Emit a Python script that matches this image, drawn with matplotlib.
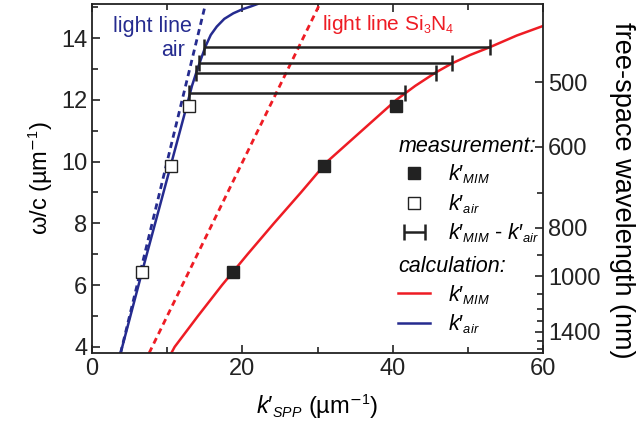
import numpy as np
import matplotlib
matplotlib.use("Agg")
import matplotlib.pyplot as plt
import matplotlib._mathtext as mathtext_internal

plt.rcParams['font.family'] = ['Liberation Sans', 'DejaVu Sans']
plt.rcParams['mathtext.fontset'] = 'custom'
plt.rcParams['mathtext.rm'] = 'Liberation Sans'
plt.rcParams['mathtext.it'] = 'Liberation Sans:italic'
mathtext_internal.SHRINK_FACTOR = 0.6  # smaller sub/superscripts, as in the original

# ---- data --------------------------------------------------------------------- #

# measured points (k' in um^-1, omega/c in um^-1)
meas_omega = [6.42, 9.85, 11.8]
meas_k_mim = [18.8, 30.9, 40.5]
meas_k_air = [6.65, 10.45, 12.85]

# k'_MIM - k'_air bars
bar_omega = [12.22, 12.88, 13.18, 13.70]
bar_k_air = [12.85, 13.87, 14.27, 14.93]
bar_k_mim = [41.6, 45.7, 47.9, 52.9]

# calculated dispersion, MIM
calc_mim_k = [10.6, 11.0, 14.1, 17.3, 20.7, 24.2, 27.8, 31.3, 35.9, 40.5,
              43.0, 45.7, 47.9, 50.3, 52.9, 56.5, 60.0]
calc_mim_w = [3.82, 4.0, 5.0, 6.0, 7.0, 8.0, 9.0, 10.0, 11.0, 12.0,
              12.45, 12.88, 13.18, 13.45, 13.70, 14.08, 14.39]

# calculated dispersion, air side
calc_air_k = [3.83, 6.65, 10.45, 12.6, 13.3, 13.9, 14.4, 15.1, 15.8, 16.6,
              17.6, 18.8, 20.0, 21.1, 22.0]
calc_air_w = [3.82, 6.42, 9.85, 11.8, 12.45, 12.9, 13.25, 13.73, 14.1, 14.37,
              14.62, 14.8, 14.93, 15.02, 15.1]

# light lines
ll_air_k = [3.8, 15.1]
ll_air_w = [3.8, 15.1]
ll_sin_k = [7.6, 30.3]
ll_sin_w = [3.8, 15.1]

# right axis (free-space wavelength, nm)
wl_major = [500, 600, 800, 1000, 1400]
wl_minor = [700, 900, 1100, 1200, 1300, 1500, 1600]

red = '#ee1c24'
blue = '#252b8f'
black = '#222222'

lab_mim = r"$k\prime_{MIM}$"
lab_air = r"$k\prime_{air}$"

# -------------------------------------------------------------------------------------------------- #

fig = plt.figure(figsize=(6.42, 4.30), dpi=100)
ax = fig.add_axes([0.1433, 0.179, 0.7025, 0.8116])

ax.plot(ll_air_k, ll_air_w, color=blue, lw=2, dashes=(2.2, 1.6))
ax.plot(ll_sin_k, ll_sin_w, color=red, lw=2, dashes=(2.2, 1.6))
line_mim, = ax.plot(calc_mim_k, calc_mim_w, color=red, lw=1.8)
line_air, = ax.plot(calc_air_k, calc_air_w, color=blue, lw=1.8)

bar_mid = [(a + b) / 2 for a, b in zip(bar_k_air, bar_k_mim)]
bar_half = [(b - a) / 2 for a, b in zip(bar_k_air, bar_k_mim)]
eb = ax.errorbar(bar_mid, bar_omega, xerr=bar_half, fmt='none', ecolor=black,
                 elinewidth=1.8, capsize=6, capthick=1.8)

sq_mim, = ax.plot(meas_k_mim, meas_omega, ls='none', marker='s', ms=9,
                  mfc=black, mec=black, mew=1)
sq_air, = ax.plot(meas_k_air, meas_omega, ls='none', marker='s', ms=9,
                  mfc='white', mec=black, mew=1)

ax.set_xlim(0, 60)
ax.set_ylim(3.8, 15.1)
ax.set_xticks([0, 20, 40, 60])
ax.set_xticks([10, 30, 50], minor=True)
ax.set_yticks([4, 6, 8, 10, 12, 14])
ax.set_yticks([5, 7, 9, 11, 13, 15], minor=True)
ax.tick_params(which='both', direction='in', top=True, right=False, width=1.2,
               labelsize=17, colors=black)
ax.tick_params(which='major', length=6)
ax.tick_params(which='minor', length=4)
for s in ax.spines.values():
    s.set_linewidth(1.3)
    s.set_color(black)

ax.set_xlabel(r"$k\prime_{SPP}$ (µm$^{\mathsf{-}1}$)", fontsize=17, labelpad=9)
ax.set_ylabel(r"ω/c (µm$^{\mathsf{-}1}$)", fontsize=17, labelpad=4)

# right axis: free-space wavelength, lambda = 2*pi/(omega/c)
ax2 = ax.twinx()
ax2.set_ylim(ax.get_ylim())
ax2.set_yticks([2 * np.pi / (w / 1000) for w in wl_major])
ax2.set_yticklabels([str(w) for w in wl_major])
ax2.set_yticks([2 * np.pi / (w / 1000) for w in wl_minor], minor=True)
ax2.tick_params(which='both', direction='in', width=1.2, labelsize=17, colors=black)
ax2.tick_params(which='major', length=6)
ax2.tick_params(which='minor', length=4)
ax2.set_ylabel("free-space wavelength (nm)", fontsize=19.5, rotation=270)
ax2.yaxis.set_label_coords(1.205, 0.467)
for s in ax2.spines.values():
    s.set_visible(False)

ax.text(0.2217, 0.965, "light line", transform=ax.transAxes, color=blue,
        fontsize=15.5, ha='right', va='top')
ax.text(0.206, 0.898, "air", transform=ax.transAxes, color=blue,
        fontsize=15.5, ha='right', va='top')
ax.text(0.51, 0.975, r"light line Si$_3$N$_4$", transform=ax.transAxes, color=red,
        fontsize=15, ha='left', va='top')

leg_kw = dict(loc='upper left', frameon=False, fontsize=15.5, handlelength=1.5,
              handletextpad=0.8, labelspacing=0.28, borderpad=0, alignment='left',
              title_fontproperties={'style': 'italic', 'size': 15.5})
leg1 = ax.legend([sq_mim, sq_air, eb], [lab_mim, lab_air, lab_mim + " - " + lab_air],
                 title="measurement:", bbox_to_anchor=(0.655, 0.654), **leg_kw)
ax.add_artist(leg1)
leg2 = ax.legend([line_mim, line_air], [lab_mim, lab_air],
                 title="calculation:", bbox_to_anchor=(0.655, 0.309), **leg_kw)

fig.savefig("out.png", dpi=100)
